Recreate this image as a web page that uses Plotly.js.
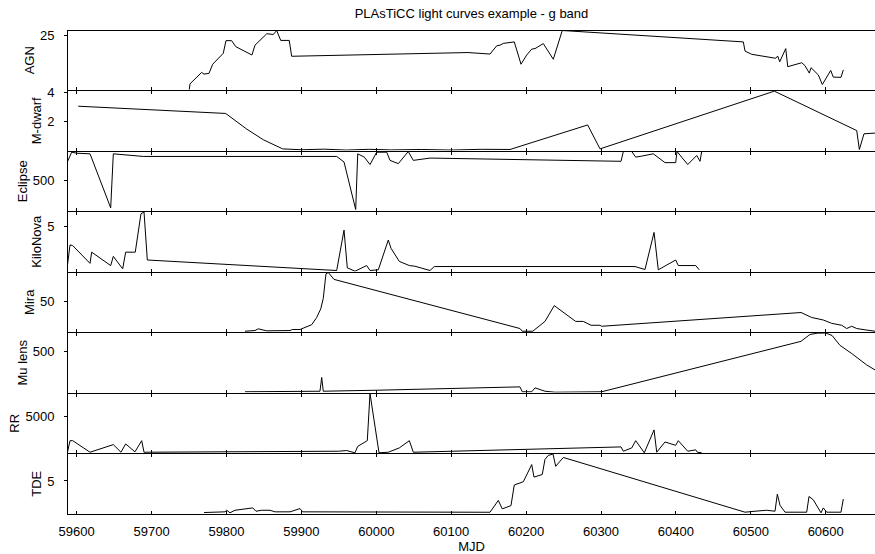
<!DOCTYPE html>
<html><head><meta charset="utf-8">
<script src="https://cdn.plot.ly/plotly-3.0.1.min.js"></script>
<style>html,body{margin:0;padding:0;background:#fff}</style>
</head><body><div id="chart" style="width:875px;height:554px"></div>
<script>
const classNames = ['AGN','M-dwarf','Eclipse','KiloNova','Mira','Mu lens','RR','TDE'];

const agnMjd = [59750.3, 59751.3, 59766.9, 59770.0, 59776.6, 59781.6, 59795.7, 59799.3, 59806.9, 59812.3, 59834.0, 59838.1, 59844.7, 59853.7, 59862.5, 59867.0, 59872.4, 59883.8, 59887.0, 60122.4, 60151.8, 60160.7, 60165.2, 60169.6, 60184.2, 60193.2, 60200.8, 60207.5, 60211.9, 60223.0, 60236.3, 60248.3, 60490.0, 60492.3, 60501.2, 60533.2, 60535.9, 60538.6, 60546.6, 60549.3, 60568.0, 60572.4, 60578.1, 60580.4, 60590.1, 60595.5, 60606.7, 60610.1, 60620.4, 60623.5];
const agnFlux = [3.2, 5.5, 10.1, 9.4, 9.7, 13.4, 17.8, 22.9, 22.9, 20.5, 17.1, 21.1, 23.0, 25.7, 25.4, 27.0, 23.0, 23.0, 16.6, 18.1, 17.5, 20.8, 21.1, 21.8, 22.4, 13.4, 17.1, 19.5, 19.7, 21.7, 15.4, 27.0, 22.4, 18.7, 17.4, 15.8, 16.7, 14.4, 19.7, 12.4, 14.0, 12.8, 9.8, 12.0, 9.1, 5.2, 10.9, 8.2, 8.1, 11.1];

const mdwarfMjd = [59602.1, 59798.9, 59827.0, 59849.1, 59875.0, 59900, 59930, 59960, 59990, 60020, 60060, 60100, 60140, 60178.5, 60282.2, 60298.7, 60531.4, 60641.4, 60644.9, 60651.1, 60665.8];
const mdwarfFlux = [3.05, 2.56, 1.50, 0.78, 0.16, 0.10, 0.14, 0.08, 0.13, 0.09, 0.12, 0.08, 0.13, 0.12, 1.78, 0.16, 4.07, 1.40, 0.12, 1.18, 1.23];

const eclipseMjd = [59587.5, 59593.3, 59600.0, 59617.8, 59645.4, 59648.9, 59688.9, 59947.1, 59956.9, 59972.5, 59975.2, 59984.0, 59991.6, 60000.5, 60013.9, 60018.3, 60029.4, 60042.7, 60049.4, 60071.7, 60326.7, 60329.8, 60341.0, 60346.3, 60354.3, 60369.8, 60385.4, 60399.7, 60401.5, 60415.8, 60427.8, 60432.2, 60434.4];
const eclipseFlux = [734, 861, 848, 840, 141, 840, 806, 806, 734, 119, 840, 797, 701, 861, 861, 755, 713, 870, 755, 785, 743, 870, 870, 797, 810, 840, 726, 726, 870, 701, 819, 743, 870];

const kilonovaMjd = [59587.5, 59591.1, 59594.7, 59617.8, 59620.0, 59645.4, 59648.9, 59661.4, 59665.4, 59678.2, 59685.8, 59689.9, 59694.3, 59947.1, 59956.9, 59961.3, 59971.6, 59987.2, 59991.6, 60002.7, 60016.0, 60019.6, 60030.7, 60044.1, 60051.7, 60071.7, 60077.4, 60345.4, 60358.7, 60370.8, 60376.5, 60399.7, 60403.2, 60426.4, 60431.2];
const kilonovaFlux = [1.03, 3.18, 3.11, 1.32, 2.45, 1.10, 2.02, 0.77, 2.45, 2.45, 6.32, 6.50, 1.66, 0.60, 4.67, 0.87, 0.53, 1.10, 0.60, 0.67, 3.67, 2.85, 1.52, 1.10, 1.03, 0.60, 1.00, 1.00, 0.70, 4.44, 0.67, 1.66, 1.10, 1.10, 0.67];

const miraMjd = [59824.7, 59838.1, 59842.5, 59853.7, 59884.8, 59887.9, 59898.1, 59913.8, 59920.4, 59925.8, 59929.2, 59931.5, 59932.8, 59935.9, 59943.5, 60191.8, 60194.9, 60208.8, 60225.2, 60237.6, 60266.2, 60276.4, 60286.7, 60298.7, 60300.9, 60567.0, 60581.3, 60596.8, 60608.0, 60621.4, 60628.0, 60634.7, 60641.4, 60652.5, 60665.8];
const miraFlux = [11.0, 11.9, 14.1, 11.5, 11.9, 13.2, 13.2, 19.5, 28.8, 39.9, 53.5, 70.5, 85.3, 87.0, 78.1, 14.5, 11.0, 11.0, 23.7, 44.1, 23.7, 23.7, 18.7, 18.7, 17.4, 35.2, 28.8, 25.5, 21.2, 18.7, 14.5, 17.4, 14.5, 12.8, 11.0];

const mulensMjd = [59824.7, 59924.8, 59927.1, 59929.2, 60000.5, 60191.8, 60194.9, 60207.5, 60211.9, 60225.2, 60238.6, 60300.9, 60567.0, 60579.0, 60589.2, 60600.0, 60608.4, 60619.0, 60634.7, 60654.7, 60665.8];
const mulensFlux = [58, 64, 216, 64, 75, 112, 58, 58, 101, 64, 53, 58, 614, 690, 704, 706, 679, 570, 480, 354, 299];

const rrMjd = [59587.5, 59591.1, 59594.7, 59617.8, 59648.9, 59659.1, 59665.4, 59677.8, 59686.8, 59689.9, 59949.3, 59960.5, 59964.9, 59971.6, 59975.2, 59988.0, 59991.6, 60003.6, 60016.0, 60030.7, 60044.1, 60049.4, 60326.7, 60329.8, 60341.0, 60346.3, 60357.8, 60370.8, 60374.4, 60385.4, 60399.7, 60403.2, 60415.8, 60426.4, 60428.6, 60434.4];
const rrFlux = [330, 1900, 1900, 400, 1390, 400, 1480, 450, 1900, 400, 530, 620, 490, 330, 1170, 1900, 8030, 330, 400, 960, 1900, 400, 1090, 530, 960, 1900, 330, 3300, 400, 1730, 1300, 1900, 530, 710, 400, 330];

const tdeMjd = [59770.0, 59798.0, 59800.3, 59804.7, 59811.3, 59835.0, 59839.4, 59847.0, 59858.1, 59864.7, 59884.8, 59898.1, 59901.7, 60151.8, 60162.9, 60168.2, 60179.8, 60184.2, 60196.3, 60207.5, 60210.5, 60221.6, 60225.2, 60229.6, 60235.9, 60239.5, 60249.7, 60492.3, 60505.6, 60521.2, 60532.3, 60535.4, 60539.0, 60545.7, 60574.6, 60577.7, 60583.4, 60593.7, 60596.8, 60601.3, 60620.4, 60623.5];
const tdeFlux = [0.44, 0.54, 0.77, 0.40, 0.77, 1.11, 0.63, 0.77, 0.77, 0.54, 0.54, 1.01, 0.54, 0.48, 2.19, 0.97, 1.44, 4.42, 4.89, 7.37, 5.56, 5.94, 8.12, 8.69, 8.90, 7.12, 8.40, 0.49, 0.63, 0.77, 0.63, 3.10, 1.48, 0.49, 0.49, 2.76, 2.29, 0.40, 1.11, 0.49, 0.49, 2.39];

const yTickValues = [[25], [2, 4], [500], [5], [50], [500], [5000], [5]];

const series = [
  [agnMjd, agnFlux], [mdwarfMjd, mdwarfFlux], [eclipseMjd, eclipseFlux], [kilonovaMjd, kilonovaFlux],
  [miraMjd, miraFlux], [mulensMjd, mulensFlux], [rrMjd, rrFlux], [tdeMjd, tdeFlux]
];
const yRanges = [[3, 27], [0.05, 4.08], [100, 870], [0.5, 6.5], [10, 87], [50, 706], [300, 8030], [0.3, 8.9]];

const FONT = 'Liberation Sans, Arial, Helvetica, sans-serif';
const n = classNames.length;
const H = 484, PANEL = H / n;
const traces = [];
const layout = {
  width: 875, height: 554,
  margin: {l: 68, r: 0, t: 30, b: 40},
  paper_bgcolor: '#fff', plot_bgcolor: '#fff',
  showlegend: false,
  font: {family: FONT, size: 13, color: '#000'},
  title: {text: 'PLAsTiCC light curves example - g band', x: 0.5, xref: 'paper', y: 1 - 13 / 554, yref: 'container', yanchor: 'middle', pad: {t: 0, b: 0}, font: {family: FONT, size: 13, color: '#000'}}
};
for (let i = 0; i < n; i++) {
  const s = i === 0 ? '' : String(i + 1);
  traces.push({
    x: series[i][0], y: series[i][1], type: 'scatter', mode: 'lines',
    line: {color: '#000', width: 1}, xaxis: 'x' + s, yaxis: 'y' + s, hoverinfo: 'skip'
  });
  const top = 1 - (PANEL * i + 0.5) / H, bot = 1 - (PANEL * (i + 1) - 0.5) / H;
  layout['xaxis' + s] = {
    domain: [0, 1], anchor: 'y' + s, range: [59588.4, 60665.8],
    matches: i === 0 ? undefined : 'x',
    tick0: 59600, dtick: 100, tickformat: 'd',
    ticks: 'inside', ticklen: 3, tickwidth: 1, tickcolor: '#000',
    showline: true, linecolor: '#000', linewidth: 1,
    mirror: i === 0 ? true : 'ticks',
    showgrid: false, zeroline: false,
    showticklabels: i === n - 1,
    ticklabelstandoff: 6,
    tickfont: {family: FONT, size: 13, color: '#000'},
    title: i === n - 1 ? {text: 'MJD', font: {family: FONT, size: 13, color: '#000'}, standoff: 2} : undefined
  };
  layout['yaxis' + s] = {
    domain: [bot, top], anchor: 'x' + s, range: yRanges[i],
    tickvals: yTickValues[i], ticktext: yTickValues[i].map(String),
    ticks: 'outside', ticklen: 3, tickwidth: 1, tickcolor: '#000',
    showline: true, linecolor: '#000', linewidth: 1, mirror: true,
    showgrid: false, zeroline: false,
    ticklabelstandoff: 7,
    tickfont: {family: FONT, size: 13, color: '#000'},
    title: {text: classNames[i], font: {family: FONT, size: 13, color: '#000'}, standoff: 2}
  };
}
Plotly.newPlot('chart', traces, layout, {staticPlot: true, displayModeBar: false});
</script>
</body></html>
